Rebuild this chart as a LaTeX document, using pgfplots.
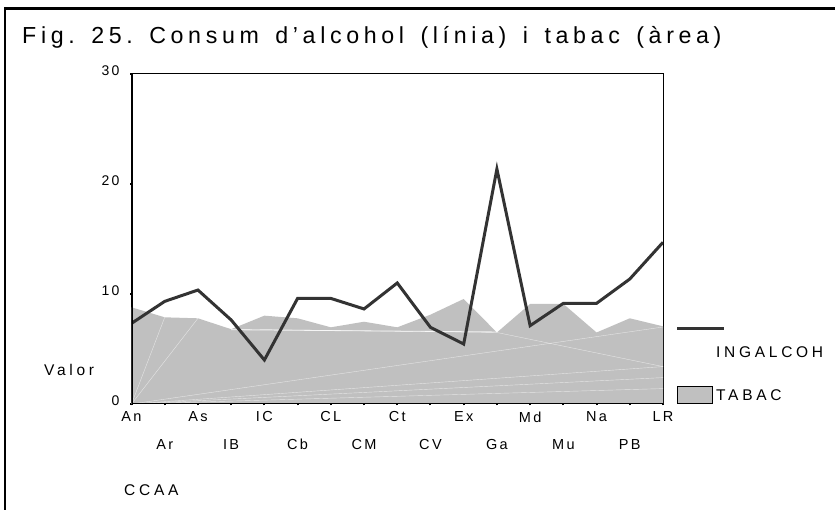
\documentclass[border=0pt]{standalone}
\usepackage{fontspec}
\setmainfont{Liberation Sans}
\newfontfamily\spfont[LetterSpace=24]{Liberation Sans}
\newfontfamily\titlefont[LetterSpace=20]{Liberation Sans}
\newfontfamily\tickfont[LetterSpace=16]{Liberation Sans}
\usepackage{pgfplots}
\pgfplotsset{compat=1.18}
\definecolor{areagray}{HTML}{C0C0C0}
\definecolor{linegray}{HTML}{333333}
\newcommand{\ws}{\hspace{16.5pt}}

\pgfplotstableread{
x y
0 8.79
1 7.88
2 7.79
3 6.80
4 8.03
5 7.79
6 6.97
7 7.48
8 6.97
9 8.12
10 9.55
11 6.50
12 9.10
13 9.10
14 6.50
15 7.79
16 7.06
}\tabac
\pgfplotstableread{
x y
0 7.33
1 9.33
2 10.36
3 7.64
4 4.00
5 9.60
6 9.60
7 8.64
8 11.00
9 6.97
10 5.45
11 21.36
12 7.12
13 9.15
14 9.15
15 11.36
16 14.70
}\ingalcoh

\begin{document}
\begin{tikzpicture}[x=1pt,y=1pt]
\useasboundingbox (0,0) rectangle (835,510);
\draw[line width=2.5pt] (5,-5) -- (5,501.5) -- (840,501.5);
\node[anchor=base west, inner sep=0, font=\titlefont\fontsize{23.2}{27}\selectfont] at (22,466) {Fig.\ws25.\ws Consum\ws d’alcohol\ws (línia)\ws i\ws tabac\ws (àrea)};

\begin{axis}[at={(131.5pt,106pt)}, anchor=south west, scale only axis,
  width=531.5pt, height=330pt,
  xmin=0, xmax=16, ymin=0, ymax=30,
  ytick={0,10,20,30},
  xtick={0,2,...,16}, xticklabels={An,As,IC,CL,Ct,Ex,Md,Na,LR},
  extra x ticks={1,3,...,15}, extra x tick labels={Ar,IB,Cb,CM,CV,Ga,Mu,PB},
  xticklabel style={yshift=-2.5pt},
  extra x tick style={tick label style={yshift=-27.5pt}},
  tick align=center, xtick pos=bottom, ytick pos=left,
  major tick length=3pt, tick style={black, line width=2pt},
  tick label style={font=\tickfont\fontsize{14.5}{17}\selectfont},
  yticklabel style={font=\tickfont\fontsize{14}{17}\selectfont, xshift=-7pt, yshift=3pt},
  /pgf/number format/assume math mode=true,
  axis line style={line width=1pt},
]
\addplot[fill=areagray, draw=none] table {\tabac} \closedcycle;
\addplot[white, line width=0.8pt, opacity=0.8] coordinates {(3,6.75) (11,6.55)};
\addplot[white, line width=0.4pt, opacity=0.6] coordinates {(0,0) (1,7.88)};
\addplot[white, line width=0.4pt, opacity=0.6] coordinates {(0,0) (2,7.79)};
\addplot[white, line width=0.4pt, opacity=0.6] coordinates {(0,0) (16,3.4)};
\addplot[white, line width=0.4pt, opacity=0.6] coordinates {(0,0) (16,7.0)};
\addplot[white, line width=0.4pt, opacity=0.6] coordinates {(3,6.8) (11,6.5) (16,3.4)};
\addplot[white, line width=0.4pt, opacity=0.6] coordinates {(0,0) (16,2.4)};
\addplot[white, line width=0.4pt, opacity=0.6] coordinates {(0,0) (16,1.4)};
\addplot[linegray, line width=3pt] table {\ingalcoh};
\draw[line width=2.5pt] (axis cs:0,30) -- (axis cs:0,0) -- (axis cs:16,0);
\end{axis}

\node[anchor=west, inner sep=0, font=\spfont\fontsize{15.5}{18}\selectfont] at (44,140) {Valor};
\node[anchor=west, inner sep=0, font=\spfont\fontsize{15.5}{18}\selectfont] at (124,20) {CCAA};
\draw[linegray, line width=3pt] (677,181) -- (724,181);
\node[anchor=west, inner sep=0, font=\spfont\fontsize{15.5}{18}\selectfont] at (716,158) {INGALCOH};
\draw[fill=areagray, line width=1pt] (677,106) rectangle (712,123);
\node[anchor=west, inner sep=0, font=\spfont\fontsize{15.5}{18}\selectfont] at (716,115) {TABAC};
\end{tikzpicture}
\end{document}
